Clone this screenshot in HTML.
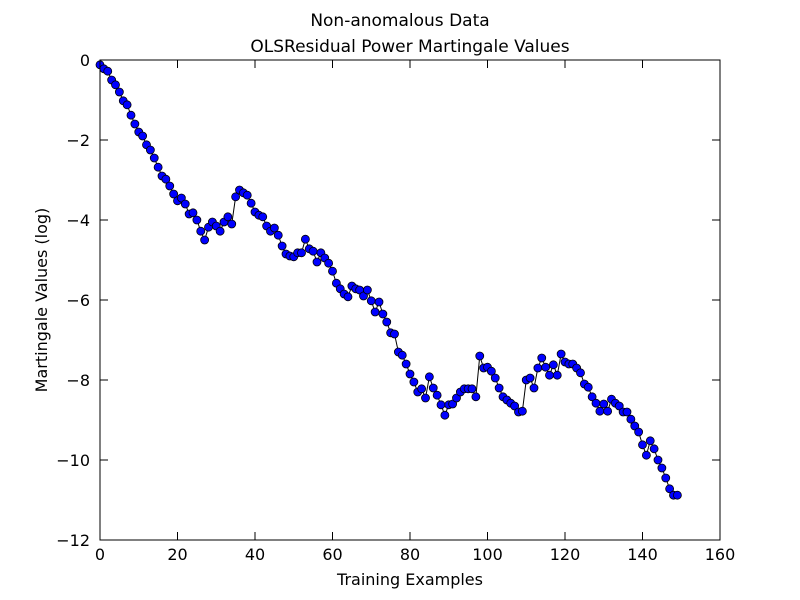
<!DOCTYPE html>
<html><head><meta charset="utf-8"><style>
body{margin:0;background:#fff;}
svg{display:block;font-family:"DejaVu Sans","Liberation Sans",sans-serif;}
</style></head><body>
<svg id="chart" width="800" height="600" viewBox="0 0 800 600">
<rect width="800" height="600" fill="#fff"/>
<text x="400" y="26" text-anchor="middle" font-size="17">Non-anomalous Data</text>
<text x="410" y="52" text-anchor="middle" font-size="17">OLSResidual Power Martingale Values</text>
<g id="ticks"></g>
<g id="series"></g>
<rect x="100" y="60" width="620" height="480" fill="none" stroke="#000" stroke-width="1"/>
<text x="410" y="585" text-anchor="middle" font-size="16">Training Examples</text>
<text transform="translate(47,300) rotate(-90)" text-anchor="middle" font-size="16">Martingale Values (log)</text>
</svg>
<script>
const values = [-0.12,-0.22,-0.28,-0.5,-0.62,-0.8,-1.02,-1.12,-1.38,-1.6,
-1.8,-1.9,-2.12,-2.25,-2.45,-2.68,-2.9,-2.98,-3.15,-3.35,
-3.52,-3.45,-3.6,-3.85,-3.82,-4.0,-4.28,-4.5,-4.18,-4.05,
-4.15,-4.28,-4.05,-3.92,-4.1,-3.42,-3.25,-3.32,-3.38,-3.58,
-3.8,-3.88,-3.92,-4.15,-4.28,-4.2,-4.38,-4.65,-4.85,-4.9,
-4.92,-4.82,-4.82,-4.48,-4.72,-4.78,-5.05,-4.82,-4.95,-5.08,
-5.28,-5.58,-5.72,-5.85,-5.92,-5.65,-5.72,-5.75,-5.9,-5.75,
-6.02,-6.3,-6.05,-6.35,-6.55,-6.82,-6.85,-7.3,-7.38,-7.6,
-7.85,-8.05,-8.3,-8.22,-8.45,-7.92,-8.2,-8.38,-8.62,-8.88,
-8.62,-8.6,-8.45,-8.3,-8.22,-8.22,-8.22,-8.42,-7.4,-7.7,
-7.68,-7.78,-7.95,-8.2,-8.42,-8.5,-8.58,-8.65,-8.8,-8.78,
-8.0,-7.95,-8.2,-7.7,-7.45,-7.68,-7.88,-7.62,-7.88,-7.35,
-7.55,-7.6,-7.6,-7.7,-7.82,-8.1,-8.18,-8.42,-8.58,-8.78,
-8.6,-8.78,-8.48,-8.58,-8.65,-8.8,-8.8,-8.98,-9.15,-9.3,
-9.62,-9.88,-9.52,-9.72,-10.0,-10.2,-10.45,-10.72,-10.88,-10.88];
const xTicks = [0,20,40,60,80,100,120,140,160];
const yTicks = [0,-2,-4,-6,-8,-10,-12];
const X = v => 100 + (v - 0) / 160 * 620;
const Y = v => 60 + (0 - v) / 12 * 480;
const NS = "http://www.w3.org/2000/svg";
const tg = document.getElementById('ticks');
const sg = document.getElementById('series');
function mk(tag, attrs, parent){const e=document.createElementNS(NS,tag);for(const k in attrs)e.setAttribute(k,attrs[k]);parent.appendChild(e);return e;}
xTicks.forEach(t=>{
  const x=X(t);
  const a=mk('line',{x1:x,x2:x,y1:540,y2:532,stroke:'#000'},tg);
  
  
  const b=mk('line',{x1:x,x2:x,y1:60,y2:68,stroke:'#000'},tg);
  
  
  const l=mk('text',{x:x,y:560,'text-anchor':'middle','font-size':16},tg);
  l.textContent=t;
  
  
});
yTicks.forEach(t=>{
  const y=Y(t);
  const a=mk('line',{x1:100,x2:108,y1:y,y2:y,stroke:'#000'},tg);
  
  
  const b=mk('line',{x1:712,x2:720,y1:y,y2:y,stroke:'#000'},tg);
  
  
  const l=mk('text',{x:90,y:y+6,'text-anchor':'end','font-size':16},tg);
  l.textContent=(t<0?'\u2212'+(-t):t);
  
  
});
const pts=values.map((v,i)=>X(i).toFixed(2)+','+Y(v).toFixed(2)).join(' ');
const line=mk('polyline',{points:pts,fill:'none',stroke:'#000','stroke-width':1},sg);


values.forEach((v,i)=>{
  const c=mk('circle',{cx:X(i),cy:Y(v),r:4,fill:'#0000ff',stroke:'#000','stroke-width':0.8},sg);
  
  
});
</script>
</body></html>
